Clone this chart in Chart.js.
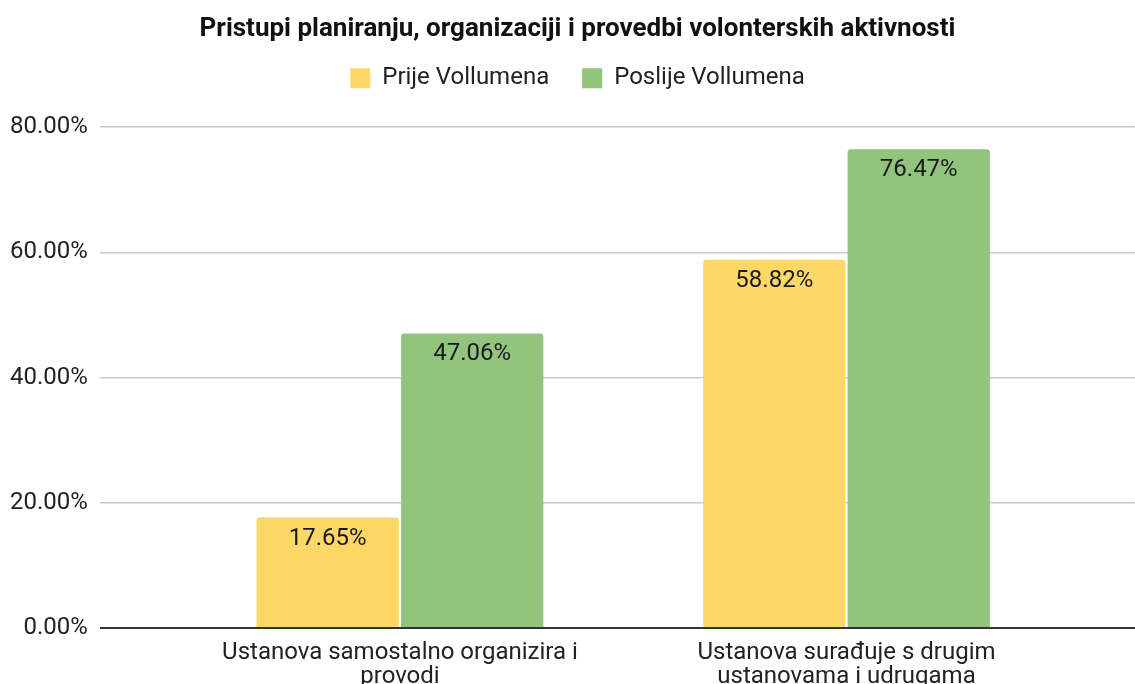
<!DOCTYPE html>
<html>
<head>
<meta charset="utf-8">
<script src="https://cdn.jsdelivr.net/npm/chart.js@4/dist/chart.umd.min.js"></script>
<style>
  html, body { margin: 0; padding: 0; background: #fff; overflow: hidden; }
  #grafico { display: block; }
</style>
</head>
<body>
<canvas id="grafico" width="1135" height="684"></canvas>
<script>
// podaci
let kategorije = [
    ['Ustanova samostalno organizira i', 'provodi'],
    ['Ustanova surađuje s drugim', 'ustanovama i udrugama']
]
let prijeVollumena = [17.65, 58.82]
let poslijeVollumena = [47.06, 76.47]
let oznakeY = [0, 20, 40, 60, 80]

let fontBase = 'Roboto, "Liberation Sans", Arial, sans-serif'

// oznake s vrijednostima unutar stupaca
const oznakeStupaca = {
    id: 'oznakeStupaca',
    afterDatasetsDraw(chart) {
        let ctx = chart.ctx
        ctx.save()
        ctx.font = '24px ' + fontBase
        ctx.fillStyle = '#1a1a1a'
        ctx.textAlign = 'center'
        ctx.textBaseline = 'middle'
        chart.data.datasets.forEach((ds, i) => {
            chart.getDatasetMeta(i).data.forEach((bar, j) => {
                ctx.fillText(ds.data[j].toFixed(2) + '%', bar.x, bar.y + 21)
            })
        })
        ctx.restore()
    }
}

// malo vise prostora ispod legende, naslov i legenda malo udesno
const razmakLegende = {
    id: 'razmakLegende',
    beforeInit(chart) {
        let fitOrig = chart.legend.fit
        chart.legend.fit = function () {
            fitOrig.bind(chart.legend)()
            this.height += 27
        }
    },
    afterLayout(chart) {
        chart.titleBlock.left += 22
        chart.legend.left += 22
    }
}

let grafico = new Chart(document.getElementById('grafico'), {
    type: 'bar',
    data: {
        labels: kategorije,
        datasets: [
            {
                label: 'Prije Vollumena',
                data: prijeVollumena,
                backgroundColor: '#FDD866',
                borderRadius: { topLeft: 3, topRight: 3 },
                borderSkipped: 'bottom',
                categoryPercentage: 0.647,
                barPercentage: 0.985
            },
            {
                label: 'Poslije Vollumena',
                data: poslijeVollumena,
                backgroundColor: '#93C47D',
                borderRadius: { topLeft: 3, topRight: 3 },
                borderSkipped: 'bottom',
                categoryPercentage: 0.647,
                barPercentage: 0.985
            }
        ]
    },
    options: {
        responsive: false,
        animation: false,
        layout: { padding: { left: -2, right: 0, top: 0, bottom: -18 } },
        plugins: {
            title: {
                display: true,
                text: 'Pristupi planiranju, organizaciji i provedbi volonterskih aktivnosti',
                color: '#111',
                font: { family: fontBase, size: 26, weight: 'bold' },
                padding: { top: 14, bottom: -12 }
            },
            legend: {
                labels: {
                    color: '#222',
                    font: { family: fontBase, size: 24 },
                    boxWidth: 20,
                    boxHeight: 20,
                    padding: 33
                }
            },
            tooltip: { enabled: false }
        },
        scales: {
            x: {
                grid: { display: false, drawTicks: false },
                border: { display: false },
                // kategorije malo uvucene od rubova kao u originalu
                afterBuildTicks: (eixo) => {
                    eixo._startValue = -0.672
                    eixo._valueRange = 2.318
                },
                ticks: {
                    color: '#222',
                    font: { family: fontBase, size: 24, lineHeight: 1.0 },
                    padding: 13,
                    maxRotation: 0
                }
            },
            y: {
                min: 0,
                max: 80,
                afterBuildTicks: (eixo) => {
                    eixo.ticks = oznakeY.map(v => ({ value: v }))
                },
                grid: {
                    color: (c) => c.tick && c.tick.value === 0 ? '#333' : '#ccc',
                    lineWidth: (c) => c.tick && c.tick.value === 0 ? 2 : 1.5,
                    drawTicks: false
                },
                border: { display: false },
                ticks: {
                    color: '#222',
                    font: { family: fontBase, size: 24 },
                    padding: 12,
                    callback: (v) => v.toFixed(2) + '%'
                }
            }
        }
    },
    plugins: [oznakeStupaca, razmakLegende]
})
</script>
</body>
</html>
